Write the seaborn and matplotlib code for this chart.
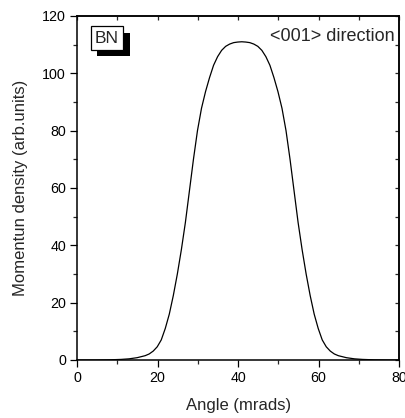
import matplotlib
matplotlib.use("Agg")
import matplotlib.pyplot as plt
import matplotlib.patheffects as pe
from matplotlib.ticker import MultipleLocator
import seaborn as sns
import pandas as pd

# Angle (mrads) and momentum density (arb. units)
angle = [0, 4.9, 7.9, 10.9, 12.9, 14.9, 16.9, 17.9, 18.9, 19.9, 20.9, 21.9,
         22.9, 23.9, 24.9, 25.9, 26.9, 27.9, 28.9, 29.9, 30.9, 31.9, 32.9,
         33.9, 34.9, 35.9, 36.9, 37.9, 38.9, 39.9, 40.9, 41.9, 42.9, 43.9,
         44.9, 45.9, 46.9, 47.9, 48.9, 49.9, 50.9, 51.9, 52.9, 53.9, 54.9,
         55.9, 56.9, 57.9, 58.9, 59.9, 60.9, 61.9, 62.9, 63.9, 64.9, 66.9,
         68.9, 70.9, 73.9, 76.9, 80]
density = [0, 0, 0.05, 0.2, 0.4, 0.8, 1.5, 2.1, 3.1, 4.6, 7, 11,
           16, 22.5, 30, 38.5, 48, 59, 70, 80, 87.8, 93.6, 98.5,
           102.8, 105.8, 108, 109.4, 110.2, 110.7, 110.9, 111, 110.9, 110.7, 110.2,
           109.4, 108, 105.8, 102.8, 98.5, 93.6, 87.8, 80, 70, 59, 48,
           38.5, 30, 22.5, 16, 11, 7, 4.6, 3.1, 2.1, 1.5, 0.8,
           0.4, 0.2, 0.05, 0, 0]

x_ticks = [0, 20, 40, 60, 80]
y_ticks = [0, 20, 40, 60, 80, 100, 120]

sns.set_theme(style="ticks")
plt.rcParams["font.family"] = ["Liberation Sans", "DejaVu Sans"]

fig = plt.figure(figsize=(4.06, 4.18), dpi=100)
ax = fig.add_axes([0.19, 0.1388, 0.793, 0.823])

df = pd.DataFrame({"angle": angle, "density": density})
sns.lineplot(data=df, x="angle", y="density", ax=ax, color="black", linewidth=0.9)

ax.set_xlim(0, 80)
ax.set_ylim(0, 120)
ax.set_xticks(x_ticks)
ax.set_yticks(y_ticks)
ax.xaxis.set_minor_locator(MultipleLocator(10))
ax.yaxis.set_minor_locator(MultipleLocator(10))
ax.tick_params(which="major", direction="out", length=5, width=0.9,
               labelsize=10.3, colors="black", pad=3)
ax.tick_params(which="minor", direction="out", length=3, width=0.9)
for s in ax.spines.values():
    s.set_linewidth(1.1)
    s.set_color("black")
    s.set_visible(True)

# inward ticks on top and right
top = ax.secondary_xaxis("top")
top.set_xticks(x_ticks)
top.xaxis.set_minor_locator(MultipleLocator(10))
top.tick_params(which="both", direction="in", length=3, width=0.9, labeltop=False)
right = ax.secondary_yaxis("right")
right.set_yticks(y_ticks)
right.yaxis.set_minor_locator(MultipleLocator(10))
right.tick_params(which="both", direction="in", length=3, width=0.9, labelright=False)

ax.set_xlabel("Angle (mrads)", fontsize=12, labelpad=9)
ax.set_ylabel("Momentun density (arb.units)", fontsize=12, labelpad=10)

t = ax.text(0.093, 0.935, "BN", transform=ax.transAxes, fontsize=12.5,
            ha="center", va="center",
            bbox=dict(boxstyle="square,pad=0.25", fc="white", ec="black", lw=0.9))
t.get_bbox_patch().set_path_effects([
    pe.SimplePatchShadow(offset=(4.5, -4.5), shadow_rgbFace="black", alpha=1.0),
    pe.Normal()])

ax.text(0.985, 0.94, "<001> direction", transform=ax.transAxes, fontsize=13,
        ha="right", va="center")

fig.savefig("out.png", dpi=100)
